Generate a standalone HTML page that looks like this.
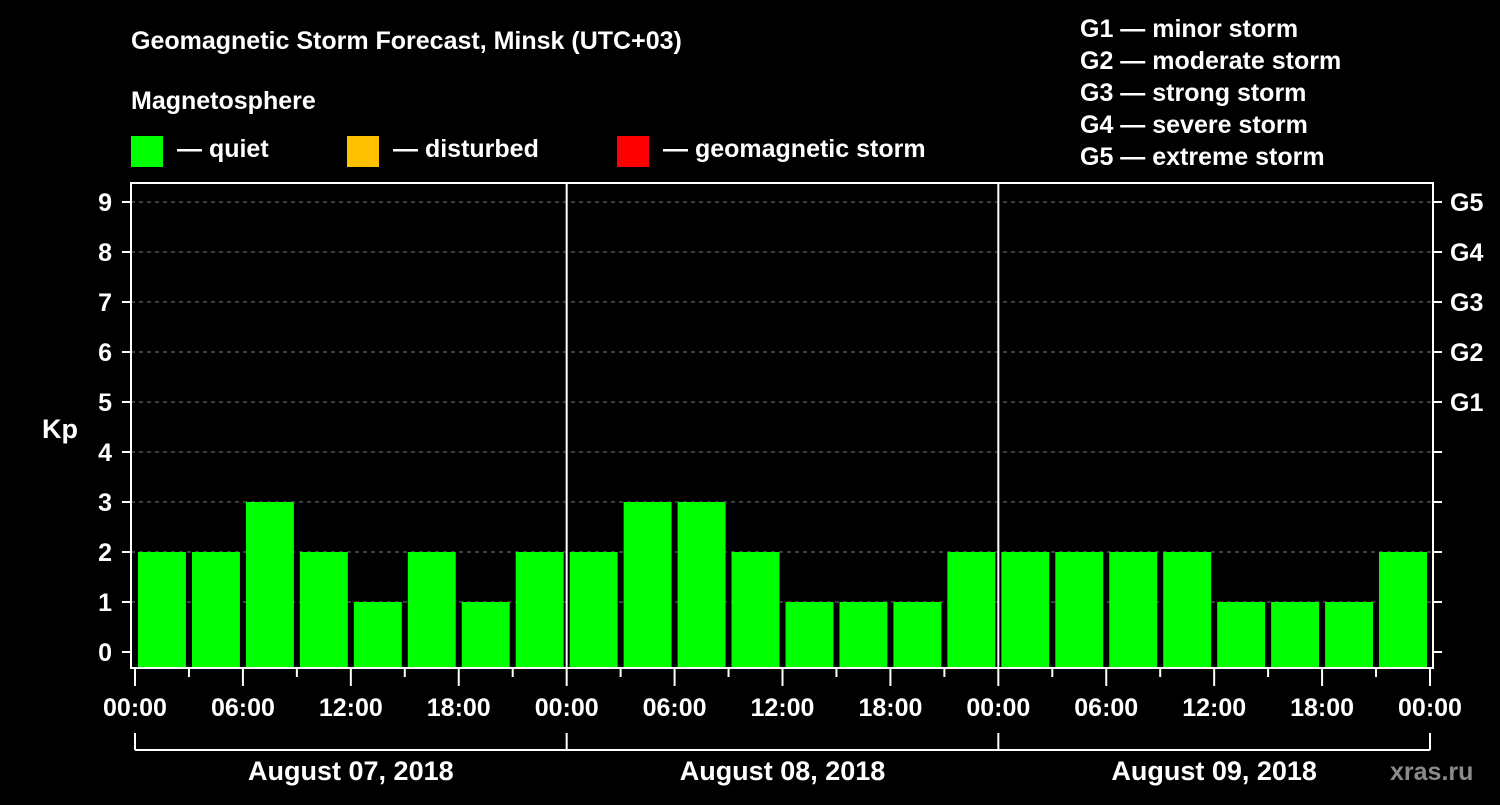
<!DOCTYPE html>
<html><head><meta charset="utf-8"><style>
body{margin:0;background:#000;width:1500px;height:800px;overflow:hidden}
svg text{font-family:"Liberation Sans",sans-serif;font-weight:bold;fill:#fff}
</style></head><body>
<svg width="1500" height="800">
<text x="131" y="49" font-size="25">Geomagnetic Storm Forecast, Minsk (UTC+03)</text>
<text x="131" y="109" font-size="25">Magnetosphere</text>
<rect x="131" y="136" width="32" height="31" fill="#00ff00"/>
<text x="177" y="157" font-size="25">— quiet</text>
<rect x="347" y="136" width="32" height="31" fill="#ffc000"/>
<text x="393" y="157" font-size="25">— disturbed</text>
<rect x="617" y="136" width="32" height="31" fill="#ff0000"/>
<text x="663" y="157" font-size="25">— geomagnetic storm</text>
<g font-size="25">
<text x="1080" y="37">G1 — minor storm</text>
<text x="1080" y="69">G2 — moderate storm</text>
<text x="1080" y="101">G3 — strong storm</text>
<text x="1080" y="133">G4 — severe storm</text>
<text x="1080" y="165">G5 — extreme storm</text>
</g>
<text x="42" y="438" font-size="27">Kp</text>
<text x="1390" y="780" font-size="25" fill="#888" style="fill:#8a8a8a">xras.ru</text>
<g id="plot"></g>
</svg>
<script>
const kpValues=[2,2,3,2,1,2,1,2, 2,3,3,2,1,1,1,2, 2,2,2,2,1,1,1,2];
const dayLabels=["August 07, 2018","August 08, 2018","August 09, 2018"];
const timeLabels=["00:00","06:00","12:00","18:00"];
const yTicks=[0,1,2,3,4,5,6,7,8,9];
const gLabels=[["G1",5],["G2",6],["G3",7],["G4",8],["G5",9]];
const NS="http://www.w3.org/2000/svg";
const g=document.getElementById('plot');
const X0=135,X1=1430,Y0=652,PU=50,BOT=668;
const slot=(X1-X0)/kpValues.length;
const xs=i=>X0+i*slot;
const ys=v=>Y0-v*PU;
function mk(t,a){const e=document.createElementNS(NS,t);for(const k in a)e.setAttribute(k,a[k]);g.appendChild(e);return e;}
yTicks.forEach(v=>{
 if(v>0){const l=mk('line',{x1:131,x2:1433,y1:ys(v),y2:ys(v),stroke:'#777','stroke-dasharray':'4,4','stroke-width':1});
 
 }
 const t=mk('line',{x1:122,x2:131,y1:ys(v),y2:ys(v),stroke:'#fff','stroke-width':2});
 
 
 const t2=mk('line',{x1:1433,x2:1442,y1:ys(v),y2:ys(v),stroke:'#fff','stroke-width':2});
 
 
 const tx=mk('text',{x:112,y:ys(v)+9,'font-size':25,'text-anchor':'end'});tx.textContent=v;
 
 
});
gLabels.forEach(([n,v])=>{const tx=mk('text',{x:1450,y:ys(v)+9,'font-size':25});tx.textContent=n;
 
 });
kpValues.forEach((v,i)=>{
 const c=v>=5?'#ff0000':v>=4?'#ffc000':'#00ff00';
 const r=mk('rect',{x:xs(i)+3,y:ys(v),width:slot-6,height:BOT-ys(v),fill:c});
 
 
});
const fr=mk('rect',{x:131,y:183,width:1302,height:485,fill:'none',stroke:'#fff','stroke-width':2});


for(let d=1;d<dayLabels.length;d++){const l=mk('line',{x1:xs(d*8),x2:xs(d*8),y1:183,y2:668,stroke:'#fff','stroke-width':2});
 
 }
for(let i=0;i<=kpValues.length;i++){
 const long=i%2===0;
 const l=mk('line',{x1:xs(i),x2:xs(i),y1:668,y2:long?686:677,stroke:'#fff','stroke-width':2});
 
 
 if(long){const tx=mk('text',{x:xs(i),y:716,'font-size':25,'text-anchor':'middle'});tx.textContent=timeLabels[(i/2)%4];
 
 }
}
const bl=mk('line',{x1:X0,x2:X1,y1:750,y2:750,stroke:'#fff','stroke-width':2});


for(let d=0;d<=dayLabels.length;d++){const l=mk('line',{x1:xs(d*8),x2:xs(d*8),y1:733,y2:750,stroke:'#fff','stroke-width':2});
 
 }
dayLabels.forEach((s,d)=>{const tx=mk('text',{x:(xs(d*8)+xs(d*8+8))/2,y:780,'font-size':27,'text-anchor':'middle'});tx.textContent=s;
 
 });
</script>
</body></html>
